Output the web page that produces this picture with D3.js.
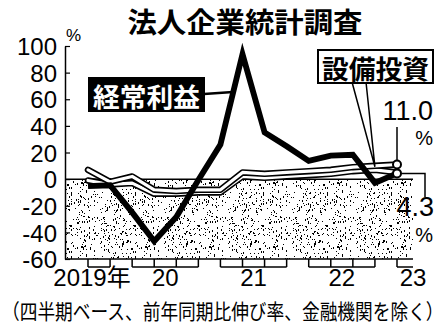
<!DOCTYPE html>
<html>
<head>
<meta charset="utf-8">
<script src="https://cdn.jsdelivr.net/npm/d3@7/dist/d3.min.js"></script>
<style>
  html, body { margin: 0; padding: 0; background: #fff; }
  svg { display: block; }
</style>
</head>
<body>
<svg id="chart" width="448" height="331"></svg>
<script>
// Quarterly year-on-year growth, excluding financial institutions
const quarters = ["2019Q3","2019Q4","2020Q1","2020Q2","2020Q3","2020Q4",
                  "2021Q1","2021Q2","2021Q3","2021Q4",
                  "2022Q1","2022Q2","2022Q3","2022Q4","2023Q1"];
const ordinaryProfit = [-5.3, -4.6, -25, -46.6, -28.4, -0.7, 26.0, 93.9, 35.1, 24.7, 13.7, 17.6, 18.3, -2.8, 4.3];
const capex          = [7, -2, 2, -8, -9, -8, -8, 5, 4, 5, 6, 7, 9, 10, 11.0];
const sales          = [-1, -4, -3, -11, -11, -10, -10, 2, 1, 2, 3, 4, 6, 7, 5];
const yTicks = [100, 80, 60, 40, 20, 0, -20, -40, -60];
const yearGroups = [
  { label: "2019年", from: 0,  to: 1 },
  { label: "20",     from: 2,  to: 5 },
  { label: "21",     from: 6,  to: 9 },
  { label: "22",     from: 10, to: 13 },
  { label: "23",     from: 14, to: 14 }
];
const title = "法人企業統計調査";
const note = "（四半期ベース、前年同期比伸び率、金融機関を除く）";

const svg = d3.select("#chart");
const plotL = 65, plotR = 413, plotT = 46, plotB = 259;
const jp = "'Noto Sans CJK JP', sans-serif";
const num = "'Liberation Sans', Arial, sans-serif";

const x = d3.scaleLinear().domain([0, quarters.length - 1]).range([88, 397]);
const y = d3.scaleLinear().domain([-60, 100]).range([plotB, plotT]);

// stipple texture for the negative zone
const defs = svg.append("defs");
const pat = defs.append("pattern").attr("id", "stipple")
  .attr("patternUnits", "userSpaceOnUse").attr("width", 64).attr("height", 64);
let seed = 12345;
function hash() { seed = (seed * 1103515245 + 12345) % 2147483648; return seed / 2147483648; }
for (let i = 0; i < 330; i++) {
  const px = Math.floor(hash() * 64), py = Math.floor(hash() * 64);
  const tall = hash() < 0.3;
  pat.append("rect").attr("x", px).attr("y", py)
    .attr("width", 1).attr("height", tall ? 2 : 1).attr("fill", "#000");
}

svg.append("rect").attr("x", plotL).attr("y", y(0))
  .attr("width", plotR - plotL).attr("height", plotB - y(0))
  .attr("fill", "url(#stipple)");

// zero line and bottom edge
svg.append("line").attr("x1", plotL).attr("x2", plotR).attr("y1", y(0)).attr("y2", y(0))
  .attr("stroke", "#000").attr("stroke-width", 1.5);
svg.append("line").attr("x1", plotL).attr("x2", plotR).attr("y1", plotB).attr("y2", plotB)
  .attr("stroke", "#000").attr("stroke-width", 1.5);

// y axis
const yAxis = d3.axisLeft(y).tickValues(yTicks).tickSizeInner(-5).tickSizeOuter(0).tickPadding(8)
  .tickFormat(d => String(d));
const ya = svg.append("g").attr("transform", `translate(${plotL},0)`).call(yAxis);
ya.select(".domain").attr("stroke", "#000").attr("stroke-width", 1.5);
ya.selectAll(".tick line").attr("stroke", "#000").attr("stroke-width", 1.2);
ya.selectAll(".tick text").attr("font-family", num).attr("font-size", 24)
  .attr("fill", "#000").attr("dy", "0.36em");
svg.append("text").attr("x", 66).attr("y", 41).attr("font-family", num)
  .attr("font-size", 17).text("%");

// year brackets on the x axis
const bt = plotB + 8;
yearGroups.forEach(g => {
  const x0 = x(g.from), x1 = g.from === g.to ? plotR : x(g.to);
  const gg = svg.append("g");
  gg.append("line").attr("x1", x0).attr("x2", x1).attr("y1", bt).attr("y2", bt)
    .attr("stroke", "#000").attr("stroke-width", 1.5);
  d3.range(g.from, g.to + 1).forEach(i => {
    gg.append("line").attr("x1", x(i)).attr("x2", x(i)).attr("y1", plotB).attr("y2", bt)
      .attr("stroke", "#000").attr("stroke-width", 1.5);
  });
  let cx = (x0 + x1) / 2;
  if (g.label.length > 2) cx -= 7;
  if (g.from === g.to) cx = plotR;
  svg.append("text").attr("x", cx).attr("y", 286).attr("text-anchor", "middle")
    .attr("font-family", g.label.length > 2 ? num + "," + jp : num).attr("font-size", 24)
    .text(g.label);
});

const line = d3.line().x((d, i) => x(i)).y(d => y(d)).curve(d3.curveLinear);

// outlined series (white core with black rim)
[sales, capex].forEach(s => {
  svg.append("path").attr("d", line(s)).attr("fill", "none").attr("stroke", "#000")
    .attr("stroke-width", 6.5).attr("stroke-linejoin", "round").attr("stroke-linecap", "round");
  svg.append("path").attr("d", line(s)).attr("fill", "none").attr("stroke", "#fff")
    .attr("stroke-width", 3.2).attr("stroke-linejoin", "round").attr("stroke-linecap", "round");
});

// ordinary profit
svg.append("path").attr("d", line(ordinaryProfit)).attr("fill", "none").attr("stroke", "#000")
  .attr("stroke-width", 5.8).attr("stroke-linejoin", "miter");

// end markers
const last = quarters.length - 1;
[capex[last], ordinaryProfit[last]].forEach(v => {
  svg.append("circle").attr("cx", x(last)).attr("cy", y(v)).attr("r", 4)
    .attr("fill", "#fff").attr("stroke", "#000").attr("stroke-width", 2);
});

// 11.0 % callout
svg.append("line").attr("x1", x(last)).attr("x2", x(last))
  .attr("y1", y(capex[last]) - 4).attr("y2", 127).attr("stroke", "#000").attr("stroke-width", 1.5);
svg.append("text").attr("x", 433).attr("y", 120).attr("text-anchor", "end")
  .attr("font-family", num).attr("font-size", 27).text(capex[last].toFixed(1));
svg.append("text").attr("x", 433).attr("y", 145).attr("text-anchor", "end")
  .attr("font-family", num).attr("font-size", 20).text("%");

// 4.3 % callout
const yEnd = y(ordinaryProfit[last]);
svg.append("path").attr("d", `M${x(last) + 4},${yEnd}H425V197`)
  .attr("fill", "none").attr("stroke", "#000").attr("stroke-width", 1.5);
svg.append("text").attr("x", 434).attr("y", 216).attr("text-anchor", "end")
  .attr("font-family", num).attr("font-size", 27).text(ordinaryProfit[last].toFixed(1));
svg.append("text").attr("x", 433).attr("y", 242).attr("text-anchor", "end")
  .attr("font-family", num).attr("font-size", 20).text("%");

// 経常利益 label
svg.append("line").attr("x1", 204).attr("x2", 233).attr("y1", 94).attr("y2", 92)
  .attr("stroke", "#000").attr("stroke-width", 2.5);
svg.append("rect").attr("x", 88).attr("y", 77).attr("width", 117).attr("height", 35).attr("fill", "#000");
svg.append("text").attr("x", 93).attr("y", 95).attr("dominant-baseline", "central")
  .attr("font-family", jp).attr("font-weight", 700).attr("font-size", 26).attr("fill", "#fff")
  .attr("textLength", 107).attr("lengthAdjust", "spacingAndGlyphs").text("経常利益");

// 設備投資 label with pointer
const tipX = x(13), tipY = y(capex[13]) + 1;
svg.append("path").attr("d", `M352,82L${tipX},${tipY}L366,82`)
  .attr("fill", "#fff").attr("stroke", "#000").attr("stroke-width", 1.5);
svg.append("rect").attr("x", 318).attr("y", 50).attr("width", 115).attr("height", 33)
  .attr("fill", "#fff").attr("stroke", "#000").attr("stroke-width", 2);
svg.append("text").attr("x", 322).attr("y", 67).attr("dominant-baseline", "central")
  .attr("font-family", jp).attr("font-weight", 700).attr("font-size", 26).attr("fill", "#000")
  .attr("textLength", 107).attr("lengthAdjust", "spacingAndGlyphs").text("設備投資");

// title
svg.append("text").attr("x", 245).attr("y", 21).attr("text-anchor", "middle")
  .attr("dominant-baseline", "central").attr("font-family", jp).attr("font-weight", 700)
  .attr("font-size", 28).attr("textLength", 235).attr("lengthAdjust", "spacingAndGlyphs").text(title);

// footnote, squeezed horizontally to span the width
const noteG = svg.append("g");
const noteT = noteG.append("text").attr("x", 0).attr("y", 0).attr("dominant-baseline", "central")
  .attr("font-family", jp).attr("font-size", 21).text(note);
const natural = noteT.node().getComputedTextLength();
noteG.attr("transform", `translate(2,310) scale(${442 / natural},1)`);
</script>
</body>
</html>
